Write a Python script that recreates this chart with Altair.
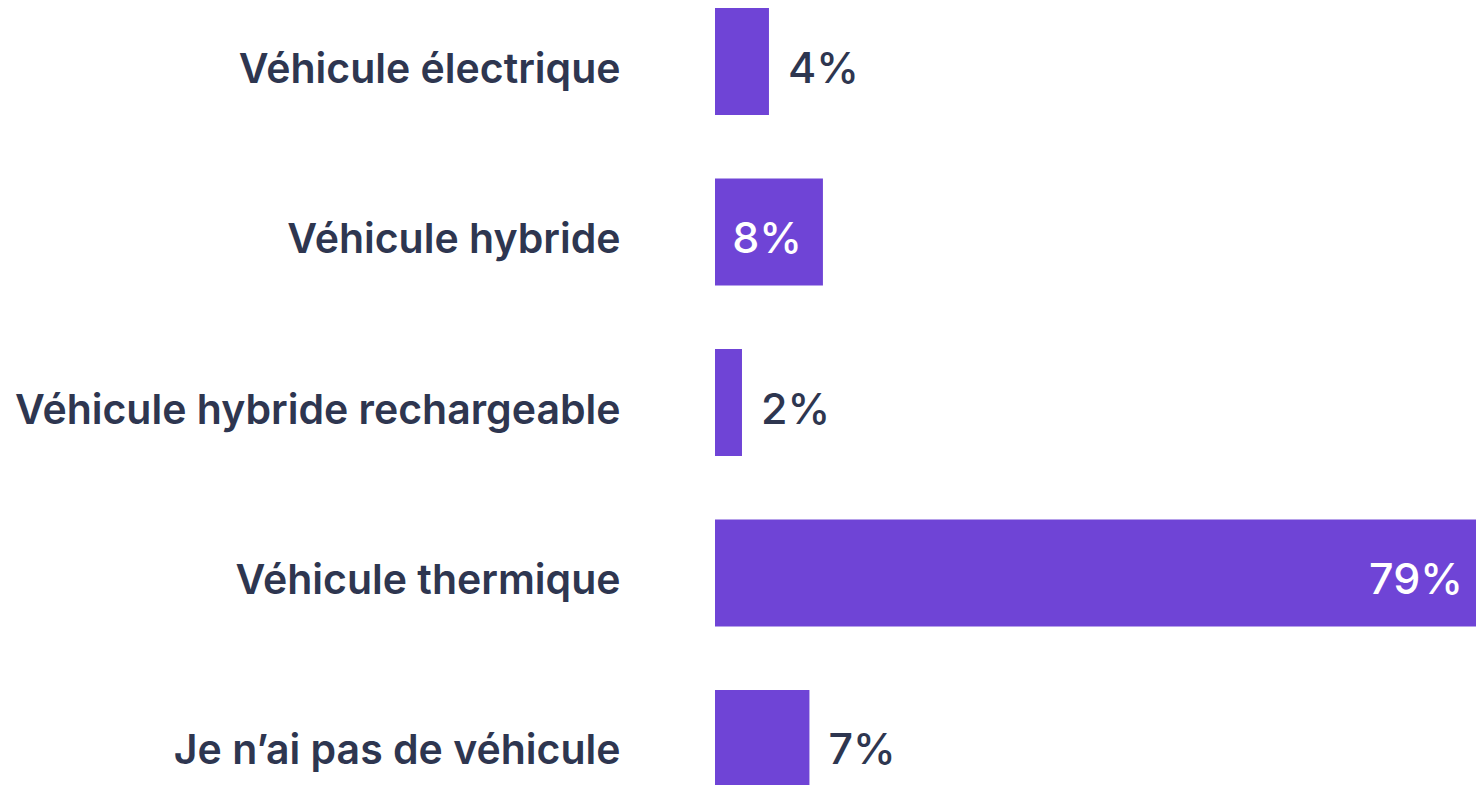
import altair as alt
import pandas as pd

categories = [
    "Véhicule électrique",
    "Véhicule hybride",
    "Véhicule hybride rechargeable",
    "Véhicule thermique",
    "Je n’ai pas de véhicule",
]
values = [4, 8, 2, 79, 7]
labels = ["4%", "8%", "2%", "79%", "7%"]

df = pd.DataFrame({"cat": categories, "val": values, "label": labels})
df["inside"] = df["val"] >= 8

BAR = "#6F44D6"
TXT = "#2E3650"
FONT = "Inter"

x = alt.X(
    "val:Q",
    scale=alt.Scale(domain=[0, 57], clamp=True, nice=False, range=[0, 769]),
    axis=None,
)
y = alt.Y(
    "cat:N",
    sort=categories,
    scale=alt.Scale(paddingInner=0.372, paddingOuter=0, range=[0, 789]),
    axis=alt.Axis(
        title=None, domain=False, ticks=False, grid=False, labelPadding=95,
        labelFont=FONT, labelFontSize=41, labelFontWeight=600,
        labelColor=TXT, labelLimit=900, labelBaseline="alphabetic",
        labelOffset=21,
    ),
)

base = alt.Chart(df)
bars = base.mark_bar(color=BAR).encode(x=x, y=y)

outside = base.transform_filter("!datum.inside").mark_text(
    align="left", baseline="alphabetic", dx=19, dy=21, font=FONT, fontSize=43,
    fontWeight=500, color=TXT,
).encode(x=x, y=alt.Y("cat:N", sort=categories), text="label:N")

inside = base.transform_filter("datum.inside").mark_text(
    align="right", baseline="alphabetic", dx=-21, dy=21, font=FONT, fontSize=43,
    fontWeight=500, color="white",
).encode(x=x, y=alt.Y("cat:N", sort=categories), text="label:N")

chart = (
    alt.layer(bars, outside, inside)
    .properties(
        width=761, height=777,
        autosize=alt.AutoSizeParams(type="none"),
        padding={"left": 707, "top": 0, "right": 0, "bottom": 0},
        background="white",
    )
    .configure_view(stroke=None, strokeWidth=0)
    .configure_axis(grid=False)
)

chart.save("out.html", embed_options={"renderer": "svg", "actions": False})
